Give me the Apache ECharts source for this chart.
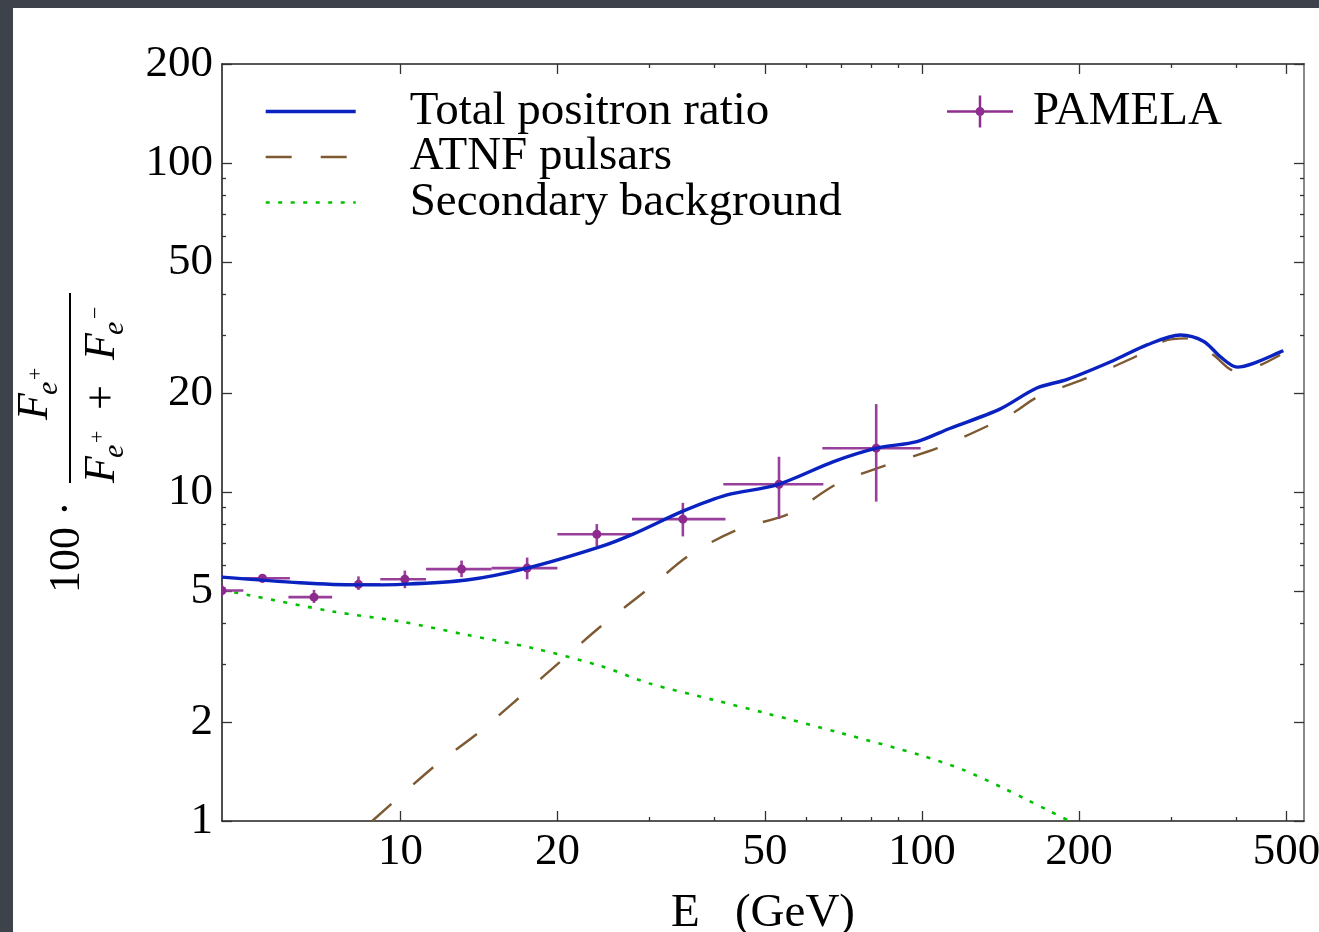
<!DOCTYPE html>
<html>
<head>
<meta charset="utf-8">
<script src="https://cdn.jsdelivr.net/npm/echarts@6/dist/echarts.min.js"></script>
<style>
  html, body { margin: 0; padding: 0; background: #3e424b; }
  #chart { width: 1319px; height: 932px; }
</style>
</head>
<body>
<div id="chart"></div>
<script>
// tick values
const energyTicks = [10, 20, 50, 100, 200, 500];
const energyMinor = [30, 40, 60, 70, 80, 90, 300, 400];
const ratioTicks = [1, 2, 5, 10, 20, 50, 100, 200];
const ratioMinor = [3, 4, 6, 7, 8, 9, 30, 40, 60, 70, 80, 90];

// total positron ratio (blue)
const totalE = [4.55, 6.42, 8.25, 10.0, 13.4, 17.5, 24.2, 28.0, 34.9, 42.3, 52.7, 67.7, 81.9, 97.8, 113, 141, 166, 190, 233, 270, 313, 347, 373, 402, 432, 493];
const totalR = [5.51, 5.30, 5.22, 5.24, 5.40, 5.87, 6.82, 7.46, 8.76, 9.80, 10.51, 12.37, 13.59, 14.23, 15.6, 17.86, 20.7, 22.0, 25.1, 28.0, 30.0, 28.7, 25.8, 23.96, 24.6, 26.9];

// ATNF pulsars (brown dashed)
const pulsarE = [8.83, 11.7, 14.2, 18.8, 24.2, 29.7, 35.9, 44.2, 55.9, 68.7, 85.6, 107, 135, 151, 165, 187, 207, 233, 258, 290, 320, 362, 390, 412, 445, 486];
const pulsarR = [1.0, 1.48, 1.87, 2.75, 3.90, 5.04, 6.44, 7.67, 8.62, 10.58, 12.09, 13.59, 16.0, 17.56, 19.3, 20.9, 22.2, 24.06, 25.9, 28.7, 29.3, 26.1, 23.6, 23.3, 24.3, 26.1];

// secondary background (green dotted)
const secE = [4.55, 5.08, 7.44, 10.0, 13.4, 18.0, 24.2, 30, 40, 50, 70, 100, 120, 143, 159, 176, 194];
const secR = [5.04, 4.87, 4.33, 4.04, 3.68, 3.35, 2.96, 2.62, 2.33, 2.13, 1.85, 1.58, 1.43, 1.26, 1.16, 1.07, 0.99];

// PAMELA points with bins and errors
const pamE   = [4.55, 5.44, 6.83, 8.31, 10.2, 13.1, 17.5, 23.8, 34.8, 53.2, 81.7];
const pamR   = [5.02, 5.47, 4.79, 5.24, 5.43, 5.83, 5.87, 7.44, 8.27, 10.56, 13.59];
const pamElo = [4.1, 5.0, 6.1, 7.39, 9.15, 11.2, 14.96, 20.0, 27.8, 41.6, 64.4];
const pamEhi = [5.0, 6.14, 7.4, 9.15, 11.2, 14.96, 20.0, 28.0, 42.0, 64.7, 99.4];
const pamRlo = [4.85, 5.3, 4.6, 5.04, 5.1, 5.51, 5.43, 6.85, 7.33, 8.28, 9.35];
const pamRhi = [5.2, 5.6, 5.04, 5.54, 5.77, 6.19, 6.32, 7.99, 9.27, 12.8, 18.5];

const zip = (a, b) => a.map((v, i) => [v, b[i]]);
const pamData = pamE.map((e, i) => [e, pamR[i], pamElo[i], pamEhi[i], pamRlo[i], pamRhi[i]]);

const serif = '"Liberation Serif", "Times New Roman", serif';
const tickColor = '#333';

function xAx(pos, ticks, len, labels, line) {
    return {
        type: 'log', logBase: 10, min: 4.55, max: 540, position: pos,
        splitLine: { show: false },
        axisLine: line ? { show: true, onZero: false, lineStyle: { color: line, width: 1.6 } } : { show: false, onZero: false },
        axisTick: { show: true, inside: true, length: len, customValues: ticks, lineStyle: { color: tickColor, width: 1.3 } },
        axisLabel: labels ? { show: true, customValues: labels, fontFamily: serif, fontSize: 45, color: '#000', margin: 9 } : { show: false }
    };
}
function yAx(pos, ticks, len, labels, line) {
    return {
        type: 'log', logBase: 10, min: 0.9999, max: 200.01, position: pos,
        splitLine: { show: false },
        axisLine: line ? { show: true, onZero: false, lineStyle: { color: line, width: line === '#222' ? 1.6 : 2 } } : { show: false, onZero: false },
        axisTick: { show: true, inside: true, length: len, customValues: ticks, lineStyle: { color: tickColor, width: 1.3 } },
        axisLabel: labels ? { show: true, customValues: labels, fontFamily: serif, fontSize: 45, color: '#000', margin: 9 } : { show: false }
    };
}

const xMain = xAx('bottom', energyTicks, 10, energyTicks, '#222');
xMain.name = 'E   (GeV)';
xMain.nameLocation = 'middle';
xMain.nameGap = 69;
xMain.nameTextStyle = { fontFamily: serif, fontSize: 47, color: '#000' };

const pamelaIcon = 'path://M0,14.75 h66 v2.5 h-66 Z M31.75,0 h2.5 v32 h-2.5 Z M37.5,16 A4.5,4.5 0 1,1 28.5,16 A4.5,4.5 0 1,1 37.5,16 Z';

function txt(u, v, s, size, italic) {
    return {
        type: 'text', x: u, y: v,
        style: { text: s, font: (italic ? 'italic ' : '') + size + 'px ' + serif, fill: '#000', align: 'left', verticalAlign: 'middle' }
    };
}

const option = {
    backgroundColor: '#3e424b',
    animation: false,
    grid: { left: 222, top: 64, right: 15, bottom: 111, containLabel: false, outerBoundsMode: 'none' },
    xAxis: [
        xMain,
        xAx('bottom', energyMinor, 4, null, null),
        xAx('top', energyTicks, 10, null, '#222'),
        xAx('top', energyMinor, 4, null, null)
    ],
    yAxis: [
        yAx('left', ratioTicks, 10, ratioTicks, '#222'),
        yAx('left', ratioMinor, 4, null, null),
        yAx('right', ratioTicks, 10, null, '#8a8a8a'),
        yAx('right', ratioMinor, 4, null, null)
    ],
    legend: [
        {
            data: ['Total positron ratio', 'ATNF pulsars', 'Secondary background'],
            orient: 'vertical', left: 264, top: 88, padding: 0,
            itemWidth: 90, itemHeight: 14, itemGap: -1.5,
            selectedMode: false,
            lineStyle: { width: 'inherit' },
            itemStyle: { opacity: 0 },
            formatter: n => '{a|' + n + '}',
            textStyle: {
                rich: { a: { fontFamily: serif, fontSize: 47, color: '#000', padding: [0, 0, 0, 49] } }
            }
        },
        {
            data: [{ name: 'PAMELA', icon: pamelaIcon }],
            left: 947, top: 88, padding: 0, itemWidth: 66, itemHeight: 32,
            selectedMode: false,
            formatter: n => '{a|' + n + '}',
            textStyle: {
                rich: { a: { fontFamily: serif, fontSize: 47, color: '#000', padding: [0, 0, 0, 15] } }
            }
        }
    ],
    graphic: [
        { type: 'rect', z: -10, shape: { x: 13, y: 8, width: 1320, height: 940 }, style: { fill: '#fff' } },
        {
            type: 'group', x: 0, y: 593, rotation: Math.PI / 2,
            children: [
                txt(0, 67, '100 \u00b7', 44, false),
                { type: 'line', shape: { x1: 110, y1: 70, x2: 300, y2: 70 }, style: { stroke: '#000', lineWidth: 2 } },
                // numerator
                txt(173, 35, 'F', 44, true),
                txt(198, 49, 'e', 30, true),
                txt(213, 36, '+', 22, false),
                // denominator
                txt(110, 102, 'F', 44, true),
                txt(135, 115, 'e', 30, true),
                txt(150, 98, '+', 22, false),
                txt(183, 103, '+', 44, false),
                txt(233, 102, 'F', 44, true),
                txt(258, 115, 'e', 30, true),
                txt(274, 96, '\u2212', 22, false)
            ]
        }
    ],
    series: [
        {
            name: 'Secondary background', type: 'line', data: zip(secE, secR),
            showSymbol: false, symbol: 'none', smooth: 0.3, clip: true,
            lineStyle: { color: '#00c000', width: 2.6, type: [4, 8.5] },
            itemStyle: { color: '#00c000' }, z: 3
        },
        {
            name: 'ATNF pulsars', type: 'line', data: zip(pulsarE, pulsarR),
            showSymbol: false, symbol: 'none', smooth: 0.3, clip: true,
            lineStyle: { color: '#7d5a32', width: 2.4, type: [26, 29] },
            itemStyle: { color: '#7d5a32' }, z: 3
        },
        {
            name: 'PAMELA', type: 'custom', data: pamData, clip: true,
            encode: { x: 0, y: 1 },
            itemStyle: { color: '#8e2f8f' }, z: 4,
            renderItem: function (params, api) {
                const c = api.coord([api.value(0), api.value(1)]);
                const xl = api.coord([api.value(2), api.value(1)]);
                const xh = api.coord([api.value(3), api.value(1)]);
                const yl = api.coord([api.value(0), api.value(4)]);
                const yh = api.coord([api.value(0), api.value(5)]);
                const st = { stroke: '#983f9b', lineWidth: 2.6 };
                return {
                    type: 'group',
                    children: [
                        { type: 'line', shape: { x1: xl[0], y1: c[1], x2: xh[0], y2: c[1] }, style: st },
                        { type: 'line', shape: { x1: c[0], y1: yl[1], x2: c[0], y2: yh[1] }, style: st },
                        { type: 'circle', shape: { cx: c[0], cy: c[1], r: 4.5 }, style: { fill: '#8e2a8e' } }
                    ]
                };
            }
        },
        {
            name: 'Total positron ratio', type: 'line', data: zip(totalE, totalR),
            showSymbol: false, symbol: 'none', smooth: 0.3, clip: true,
            lineStyle: { color: '#0a22c0', width: 3.4 },
            itemStyle: { color: '#0a22c0' }, z: 5
        }
    ]
};

const chart = echarts.init(document.getElementById('chart'));
chart.setOption(option);
</script>
</body>
</html>
